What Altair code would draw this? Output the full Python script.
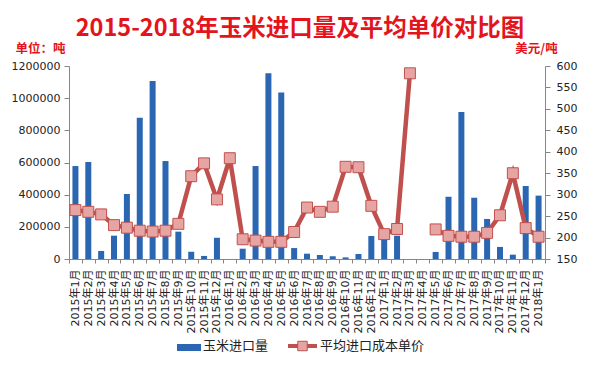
import altair as alt
import pandas as pd

months = [
    "2015年1月", "2015年2月", "2015年3月", "2015年4月", "2015年5月", "2015年6月",
    "2015年7月", "2015年8月", "2015年9月", "2015年10月", "2015年11月", "2015年12月",
    "2016年1月", "2016年2月", "2016年3月", "2016年4月", "2016年5月", "2016年6月",
    "2016年7月", "2016年8月", "2016年9月", "2016年10月", "2016年11月", "2016年12月",
    "2017年1月", "2017年2月", "2017年3月", "2017年4月", "2017年5月", "2017年6月",
    "2017年7月", "2017年8月", "2017年9月", "2017年10月", "2017年11月", "2017年12月",
    "2018年1月",
]
imports = [
    578000, 603000, 50000, 145000, 404000, 878000, 1107000, 609000, 170000, 45000,
    19000, 132000, 0, 64000, 578000, 1155000, 1036000, 68000, 33000, 25000,
    17000, 10000, 31000, 143000, 140000, 145000, 0, 0, 44000, 387000,
    914000, 381000, 249000, 75000, 27000, 454000, 394000,
]
prices = [
    264, 260, 254, 229, 223, 216, 214, 216, 232, 343,
    373, 289, 385, 196, 193, 190, 190, 213, 270, 260,
    272, 365, 364, 274, 208, 220, 583, None, 219, 204,
    202, 202, 211, 252, 350, 222, 202,
]
legend_names = ["玉米进口量", "平均进口成本单价"]
title_text = "2015-2018年玉米进口量及平均单价对比图"
left_unit = "单位：吨"
right_unit = "美元/吨"
left_ticks = [0, 200000, 400000, 600000, 800000, 1000000, 1200000]
right_ticks = [150, 200, 250, 300, 350, 400, 450, 500, 550, 600]

# segment ids so that the line breaks where a month has no price
seg = []
s = 0
for p in prices:
    if p is None:
        s += 1
    seg.append(s)

df = pd.DataFrame({"month": months, "imports": imports, "price": prices, "seg": seg})
line_df = df.dropna(subset=["price"])

W, H = 476, 193
FONT = "DejaVu Sans, Noto Sans CJK SC"
CJK = "Noto Sans CJK SC"
RED = "#E3141C"
BLUE = "#2A66B2"
LINE = "#C0504D"
MARK_FILL = "#E6A5A3"
AXIS_C = "#868686"
LABEL_C = "#222222"

x_enc = alt.X(
    "month:N", sort=months,
    scale=alt.Scale(paddingInner=0, paddingOuter=0),
    axis=alt.Axis(
        title=None, labelAngle=-90, tickBand="extent", labelFontSize=11,
        labelPadding=6, tickSize=4, domainColor=AXIS_C, tickColor=AXIS_C,
        labelColor=LABEL_C, labelFont=FONT, grid=False,
    ),
)

bars = alt.Chart(df).mark_bar(size=6, color=BLUE).encode(
    x=x_enc,
    y=alt.Y(
        "imports:Q",
        scale=alt.Scale(domain=[0, 1200000], nice=False),
        axis=alt.Axis(
            values=left_ticks, format="d", grid=False, tickSize=5, labelPadding=4,
            domainColor=AXIS_C, tickColor=AXIS_C, labelColor=LABEL_C,
            labelFont=FONT, labelFontSize=11,
            title=left_unit, titleAngle=0, titleX=-29, titleY=-18,
            titleAlign="center", titleBaseline="middle", titleColor=RED,
            titleFont=CJK, titleFontSize=12.5, titleFontWeight="bold",
        ),
    ),
)

right_axis = alt.Axis(
    values=right_ticks, format="d", grid=False, orient="right", tickSize=5,
    labelPadding=6, domainColor=AXIS_C, tickColor=AXIS_C, labelColor=LABEL_C,
    labelFont=FONT, labelFontSize=11,
    title=right_unit, titleAngle=0, titleX=-9, titleY=-18,
    titleAlign="center", titleBaseline="middle", titleColor=RED,
    titleFont=CJK, titleFontSize=12.5, titleFontWeight="bold",
)
y_price = alt.Y("price:Q", scale=alt.Scale(domain=[150, 600], nice=False, zero=False),
                axis=right_axis)

line = alt.Chart(line_df).mark_line(color=LINE, strokeWidth=4.5).encode(
    x=alt.X("month:N", sort=months), y=y_price, detail="seg:N"
)
points = alt.Chart(line_df).mark_square(
    size=120, fill=MARK_FILL, stroke=LINE, strokeWidth=1, opacity=1, filled=True
).encode(x=alt.X("month:N", sort=months), y=y_price)

price_layer = alt.layer(line, points)

# title and legend (text / decoration positioned in pixels)
title_df = pd.DataFrame({"t": [title_text]})
title_mark = alt.Chart(title_df).mark_text(
    fontSize=23.5, fontWeight="bold", color=RED, font=CJK, align="center", baseline="middle"
).encode(x=alt.value(231), y=alt.value(-37), text="t:N")

leg1_df = pd.DataFrame({"t": [legend_names[0]]})
leg2_df = pd.DataFrame({"t": [legend_names[1]]})
leg_swatch = alt.Chart(leg1_df).mark_rect(color=BLUE).encode(
    x=alt.value(108), x2=alt.value(132), y=alt.value(278), y2=alt.value(285)
)
leg_text1 = alt.Chart(leg1_df).mark_text(
    fontSize=13, font=CJK, color=LABEL_C, align="left", baseline="middle"
).encode(x=alt.value(134), y=alt.value(280), text="t:N")
leg_line = alt.Chart(leg2_df).mark_rule(color=LINE, strokeWidth=4).encode(
    x=alt.value(219), x2=alt.value(248), y=alt.value(280)
)
leg_sq = alt.Chart(leg2_df).mark_square(
    size=90, fill=MARK_FILL, stroke=LINE, strokeWidth=1, opacity=1, filled=True
).encode(x=alt.value(233.5), y=alt.value(280))
leg_text2 = alt.Chart(leg2_df).mark_text(
    fontSize=13, font=CJK, color=LABEL_C, align="left", baseline="middle"
).encode(x=alt.value(251), y=alt.value(280), text="t:N")

chart = alt.layer(
    bars, price_layer, title_mark, leg_swatch, leg_text1, leg_line, leg_sq, leg_text2
).resolve_scale(y="independent").properties(
    width=W, height=H,
    autosize=alt.AutoSizeParams(type="none"),
    padding={"left": 61, "top": 58, "right": 48, "bottom": 99},
    background="white",
).configure_view(stroke=None)

chart.save("out.html", embed_options={"renderer": "svg", "actions": False})
